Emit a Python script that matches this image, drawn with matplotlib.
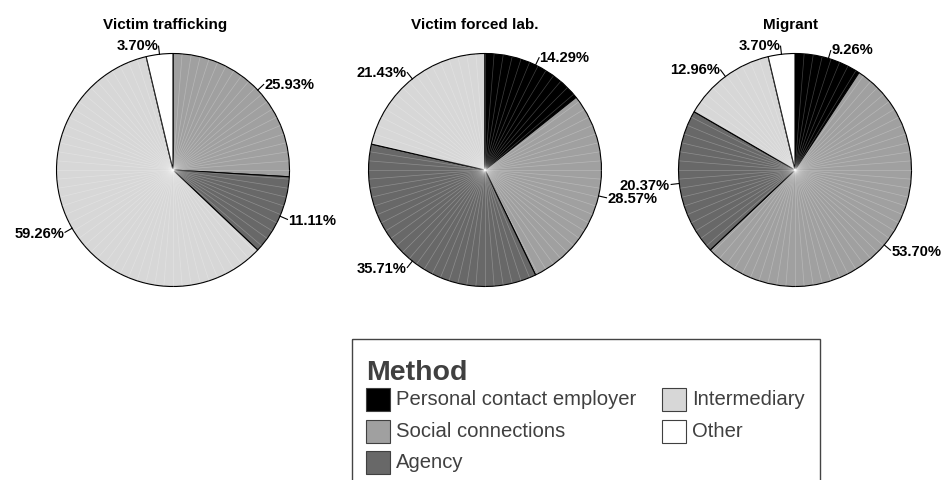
import numpy as np
import matplotlib.pyplot as plt
from matplotlib.patches import Rectangle

plt.rcParams['font.family'] = ['Liberation Sans', 'DejaVu Sans']

methods = ['Personal contact employer', 'Social connections', 'Agency',
           'Intermediary', 'Other']
colors = ['#000000', '#a0a0a0', '#686868', '#d7d7d7', '#ffffff']

groups = ['Victim trafficking', 'Victim forced lab.', 'Migrant']
trafficking = [0.00, 25.93, 11.11, 59.26, 3.70]
forced_lab = [14.29, 28.57, 35.71, 21.43, 0.00]
migrant = [9.26, 53.70, 20.37, 12.96, 3.70]
shares = [trafficking, forced_lab, migrant]

W, H = 946, 481
fig = plt.figure(figsize=(W / 100, H / 100), dpi=100)

# pie layout in pixels
centers_x = [173, 485, 795]
title_x = [165, 475, 790]
cy = 171
r_px = 116.5
half = 140

for gi, (name, vals) in enumerate(zip(groups, shares)):
    cx = centers_x[gi]
    ax = fig.add_axes([(cx - half) / W, (H - cy - half) / H, 2 * half / W, 2 * half / H])
    wedges, _ = ax.pie(vals, colors=colors, startangle=90, counterclock=False,
                       wedgeprops=dict(edgecolor='black', linewidth=0.8))
    lim = half / r_px
    ax.set_xlim(-lim, lim)
    ax.set_ylim(-lim, lim)
    ax.set_aspect('equal')
    ax.axis('off')

    for w, v, c in zip(wedges, vals, colors):
        if v <= 0:
            continue
        t1, t2 = w.theta1, w.theta2
        # faint seams across the slice
        if c != '#ffffff':
            for a in np.arange(np.ceil(t1 / 4.5) * 4.5, t2, 4.5):
                ra = np.deg2rad(a)
                ax.plot([0, np.cos(ra) * 0.995], [0, np.sin(ra) * 0.995],
                        color='white', alpha=0.25, lw=0.5, zorder=3)
        mid = np.deg2rad((t1 + t2) / 2)
        ca, sa = np.cos(mid), np.sin(mid)
        ax.plot([ca, ca * 1.07], [sa, sa * 1.07], color='black', lw=0.8,
                clip_on=False, zorder=4)
        ax.text(ca * 1.08, sa * 1.08, f'{v:.2f}%', ha='left' if ca >= 0 else 'right',
                va='center', fontsize=10.6, fontweight='bold', clip_on=False)

    fig.text(title_x[gi] / W, (H - 25) / H, name, ha='center', va='center',
             fontsize=11, fontweight='bold')

# legend drawn in pixel coordinates
lg = fig.add_axes([0, 0, 1, 1])
lg.set_xlim(0, W)
lg.set_ylim(H, 0)
lg.axis('off')
lg.patch.set_alpha(0)
lg.add_patch(Rectangle((352, 340), 468, 170, fill=False, edgecolor='#444444',
                       lw=1, clip_on=False))
lg.text(366, 373, 'Method', fontsize=20.5, fontweight='bold', color='#404040',
        va='center', ha='left')
col_x = [366, 662]
row_y = [400, 432, 463]
for i, (m, c) in enumerate(zip(methods, colors)):
    x = col_x[i // 3]
    y = row_y[i % 3]
    lg.add_patch(Rectangle((x, y - 11.5), 24, 23, facecolor=c, edgecolor='#404040',
                           lw=0.8))
    lg.text(x + 30, y, m, fontsize=14.6, color='#404040', va='center', ha='left')

fig.savefig('out.png', dpi=100)
